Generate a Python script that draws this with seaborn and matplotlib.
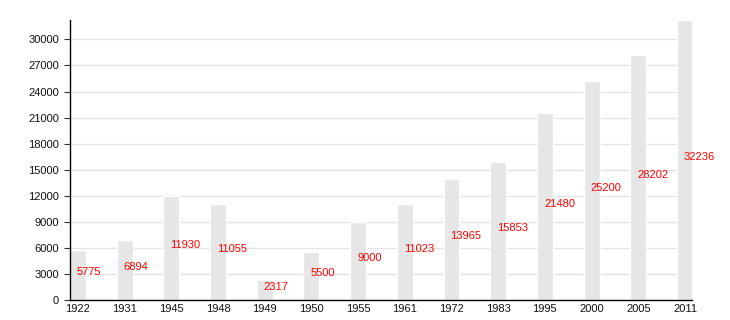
import matplotlib
matplotlib.use("Agg")
import matplotlib.pyplot as plt
import seaborn as sns
import pandas as pd

years = ["1922", "1931", "1945", "1948", "1949", "1950", "1955", "1961",
         "1972", "1983", "1995", "2000", "2005", "2011"]
population = [5775, 6894, 11930, 11055, 2317, 5500, 9000, 11023,
              13965, 15853, 21480, 25200, 28202, 32236]
yticks = list(range(0, 30001, 3000))

sns.set_theme(style="white")
plt.rcParams["font.family"] = ["Liberation Sans", "DejaVu Sans"]

df = pd.DataFrame({"year": years, "pop": population})

fig = plt.figure(figsize=(7.3, 3.2), dpi=100)
ax = fig.add_axes([70/730, 20/320, 622/730, 280/320])

ax.set_axisbelow(True)
for t in yticks:
    ax.axhline(t, color="#e4e4e4", lw=1, zorder=0)

sns.barplot(data=df, x="year", y="pop", color="#e6e6e6", saturation=1,
            width=0.34, ax=ax, zorder=2)

for i, v in enumerate(population):
    ax.text(i - 0.02, v / 2, str(v), color="#ff0000", fontsize=8,
            ha="left", va="baseline", zorder=3)

ax.set_ylim(0, max(population))
ax.set_xlim(-0.17, 13.15)
ax.set_yticks(yticks)
ax.set_yticklabels([str(t) for t in yticks], fontsize=8, color="#111111")
ax.tick_params(axis="x", labelsize=8, length=0, pad=3, colors="#111111")
ax.tick_params(axis="y", length=4, width=0.8, pad=4, left=True, color="#333333")
ax.set_xlabel("")
ax.set_ylabel("")
for s in ["top", "right"]:
    ax.spines[s].set_visible(False)
for s in ["left", "bottom"]:
    ax.spines[s].set_color("black")
    ax.spines[s].set_linewidth(1)

fig.savefig("out.png", dpi=100)
